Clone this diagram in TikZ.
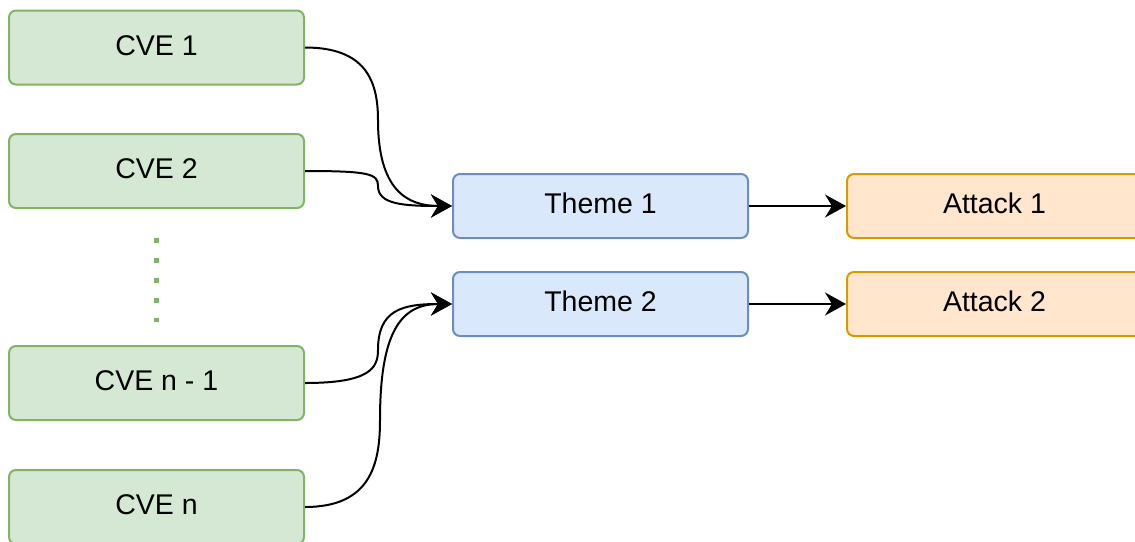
\documentclass[tikz,border=0pt]{standalone}
\usepackage{fontspec}
\setmainfont{Liberation Sans}
\usetikzlibrary{arrows.meta}
\definecolor{cvefill}{HTML}{D5E8D4}
\definecolor{cveline}{HTML}{82B366}
\definecolor{themefill}{HTML}{DAE8FC}
\definecolor{themeline}{HTML}{6C8EBF}
\definecolor{atkfill}{HTML}{FFE6CC}
\definecolor{atkline}{HTML}{D79B00}
\tikzset{
  box/.style={rectangle, rounded corners=7pt, line width=2pt, minimum width=295pt,
    inner sep=0pt, text height=22pt, text depth=7pt,
    font=\fontsize{28.5}{34}\selectfont},
  cvebox/.style={box, fill=cvefill, draw=cveline, minimum height=74pt},
  themebox/.style={box, fill=themefill, draw=themeline, minimum height=64pt},
  atkbox/.style={box, fill=atkfill, draw=atkline, minimum height=64pt},
  conn/.style={line width=2pt, -{Stealth[length=21pt, width=23pt, inset=7pt]}},
}
\begin{document}
\begin{tikzpicture}[x=1pt, y=-1pt]
\useasboundingbox (0,0) rectangle (1135,541);

% vulnerability entries
\node[cvebox] (cve1) at (156.5,47.5) {CVE 1};
\node[cvebox] (cve2) at (156.5,171) {CVE 2};
\node[cvebox] (cven1) at (156.5,383) {CVE n - 1};
\node[cvebox] (cven) at (156.5,507) {CVE n};

% ellipsis between the entries
\coordinate (dtop) at (156,237.5);
\coordinate (dbot) at (156,322);
\draw[cveline, line width=5pt, dash pattern=on 5pt off 15pt] (dtop) -- (dbot);

% themes and attacks
\node[themebox] (theme1) at (600.5,206) {Theme 1};
\node[themebox] (theme2) at (600.5,304) {Theme 2};
\node[atkbox] (atk1) at (994.5,206) {Attack 1};
\node[atkbox] (atk2) at (994.5,304) {Attack 2};

% connectors
\draw[conn] (cve1.east) .. controls +(60,0) and +(0,-40) .. (378,120)
  .. controls +(0,70) and +(-45,0) .. (theme1.west);
\draw[conn] (cve2.east) .. controls +(65,0) and +(0,-12) .. (378,186)
  .. controls +(0,18) and +(-50,0) .. (theme1.west);
\draw[conn] (cven1.east) .. controls +(65,0) and +(0,18) .. (378,350)
  .. controls +(0,-40) and +(-50,0) .. (theme2.west);
\draw[conn] (cven.east) .. controls +(65,0) and +(0,45) .. (380,420)
  .. controls +(0,-90) and +(-50,0) .. (theme2.west);
\draw[conn] (theme1.east) -- (atk1.west);
\draw[conn] (theme2.east) -- (atk2.west);
\end{tikzpicture}
\end{document}
